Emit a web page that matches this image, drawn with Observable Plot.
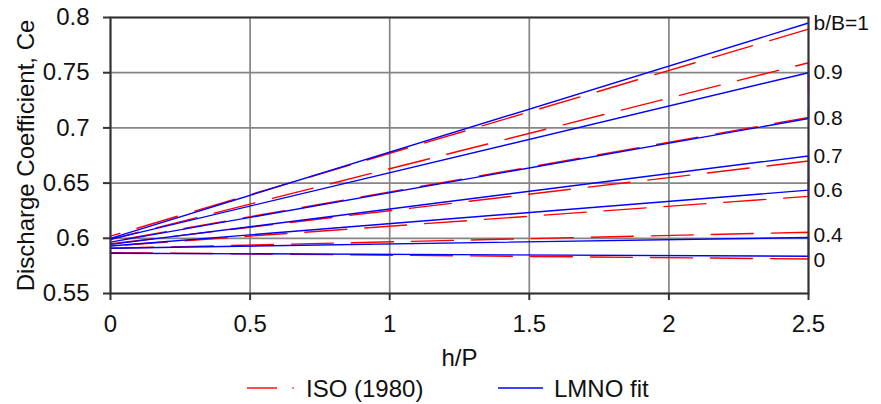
<!DOCTYPE html>
<html><head><meta charset="utf-8">
<script src="https://cdn.jsdelivr.net/npm/d3@7"></script>
<script src="https://cdn.jsdelivr.net/npm/@observablehq/plot@0.6"></script>
<style>
body{margin:0;background:#fff;font-family:"Liberation Sans",Arial,sans-serif;}
#wrap{position:relative;width:881px;height:404px;overflow:hidden;}
</style></head><body><div id="wrap"></div>
<script>
// b/B ratios (curve labels at right)
const ratios = [0, 0.4, 0.6, 0.7, 0.8, 0.9, 1];
const ratioLabels = ["0", "0.4", "0.6", "0.7", "0.8", "0.9", "b/B=1"];
// ISO (1980) Ce at h/P = 0 and h/P = 2.5
const isoStart = [0.587, 0.591, 0.593, 0.595, 0.597, 0.599, 0.602];
const isoEnd   = [0.5813, 0.6055, 0.638, 0.670, 0.7095, 0.759, 0.7895];
// LMNO fit Ce at h/P = 0 and h/P = 2.5
const lmnoStart = [0.5865, 0.591, 0.593, 0.5945, 0.5965, 0.599, 0.600];
const lmnoEnd   = [0.5838, 0.6007, 0.6436, 0.6746, 0.7085, 0.750, 0.795];
// vertical position of each right-hand label (Ce at h/P = 2.5)
const labelCe   = [0.5805, 0.6027, 0.6436, 0.6746, 0.7085, 0.750, 0.795];
const hpRange = [0, 2.5];
const ceRange = [0.55, 0.8];
const xTicks = [0, 0.5, 1, 1.5, 2, 2.5];
const yTicks = [0.55, 0.6, 0.65, 0.7, 0.75, 0.8];
const seriesNames = ["ISO (1980)", "LMNO fit"];

// one continuous series per source, zig-zagging between the h/P ends
function snake(starts, ends) {
  const pts = [];
  starts.forEach((s, i) => {
    const seg = [{hp: hpRange[0], ce: s}, {hp: hpRange[1], ce: ends[i]}];
    if (i % 2) seg.reverse();
    pts.push(...seg);
  });
  return pts;
}

const FONT = '"Liberation Sans", Arial, sans-serif';
const plot = Plot.plot({
  width: 881, height: 372,
  marginLeft: 110, marginRight: 73, marginTop: 17, marginBottom: 79,
  style: {fontFamily: FONT, fontSize: "24px", color: "#111", background: "#fff", overflow: "visible"},
  x: {domain: hpRange},
  y: {domain: ceRange},
  marks: [
    Plot.gridX(xTicks, {stroke: "#858585", strokeOpacity: 1, strokeWidth: 1.7}),
    Plot.gridY(yTicks, {stroke: "#858585", strokeOpacity: 1, strokeWidth: 1.7}),
    Plot.line(snake(isoStart, isoEnd), {x: "hp", y: "ce", stroke: "#ff0000", strokeWidth: 1.4, strokeDasharray: "42,18"}),
    Plot.line(snake(lmnoStart, lmnoEnd), {x: "hp", y: "ce", stroke: "#0000ff", strokeWidth: 1.4}),
    Plot.frame({stroke: "#333", strokeWidth: 2}),
    Plot.axisX(xTicks, {tickSize: 7, tickPadding: 14, stroke: "#333", strokeWidth: 2, tickFormat: d => String(d),
      label: "h/P", labelAnchor: "center", labelArrow: "none", labelOffset: 72}),
    Plot.axisY(yTicks, {tickSize: 7, tickPadding: 14, stroke: "#333", strokeWidth: 2, tickFormat: d => String(d),
      label: "Discharge Coefficient, Ce", labelAnchor: "center", labelArrow: "none", labelOffset: 94}),
    Plot.text(ratioLabels, {x: () => hpRange[1], y: labelCe, text: d => d, dx: 5, textAnchor: "start", fontSize: 21, fill: "#111"})
  ]
});
const wrap = document.getElementById("wrap");
wrap.appendChild(plot);

// legend below the chart
const leg = d3.select(wrap).append("svg")
  .attr("width", 881).attr("height", 32)
  .style("position", "absolute").style("left", "0px").style("top", "372px")
  .style("font-family", FONT).style("font-size", "24px");
const red = leg.append("g");
red.append("line").attr("x1", 247).attr("x2", 277).attr("y1", 16).attr("y2", 16).attr("stroke", "#ff0000").attr("stroke-width", 1.4);
red.append("line").attr("x1", 292.3).attr("x2", 293.7).attr("y1", 16).attr("y2", 16).attr("stroke", "#ff0000").attr("stroke-width", 1.4);
red.append("text").attr("x", 306).attr("y", 25).attr("fill", "#111").text(seriesNames[0]);
const blue = leg.append("g");
blue.append("line").attr("x1", 498).attr("x2", 543).attr("y1", 16).attr("y2", 16).attr("stroke", "#0000ff").attr("stroke-width", 1.4);
blue.append("text").attr("x", 554).attr("y", 25).attr("fill", "#111").text(seriesNames[1]);
</script>
</body></html>
